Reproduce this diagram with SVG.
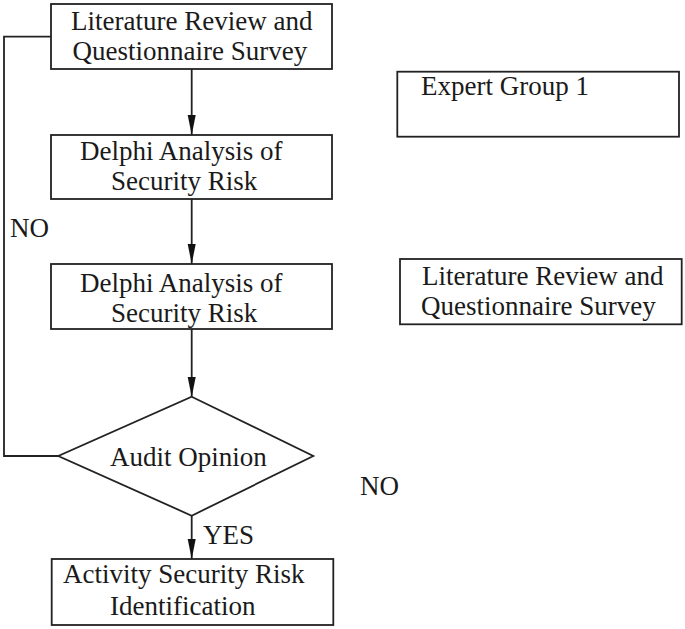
<svg xmlns="http://www.w3.org/2000/svg" width="685" height="629" viewBox="0 0 685 629">
<defs>
<style>
.box{fill:#fff;stroke:#222;stroke-width:1.8}
.t{font-family:"Liberation Serif","Times New Roman",serif;font-size:27px;fill:#1a1a1a}
.c{fill:none;stroke:#222;stroke-width:1.8}
.ah{fill:#111}
</style>
</defs>
<rect width="685" height="629" fill="#fff"/>
<g id="connectors">
<path class="c" d="M191.7,69 V135"/>
<path class="ah" d="M187.7,115 L195.7,115 L191.7,135 Z"/>
<path class="c" d="M191.7,199 V264"/>
<path class="ah" d="M187.7,244 L195.7,244 L191.7,264 Z"/>
<path class="c" d="M191.7,329 V397"/>
<path class="ah" d="M187.7,377 L195.7,377 L191.7,397 Z"/>
<path class="c" d="M191.7,516 V559"/>
<path class="ah" d="M187.7,539 L195.7,539 L191.7,559 Z"/>
<path class="c" d="M58.3,456 H4 V36.7 H51"/>
<text class="t" x="10" y="237">NO</text>
<text class="t" x="203" y="544">YES</text>
<text class="t" x="360" y="495">NO</text>
</g>
<g id="n1">
<rect class="box" x="51" y="4" width="281" height="65"/>
<text class="t" x="71" y="30">Literature Review and</text>
<text class="t" x="72.5" y="60">Questionnaire Survey</text>
</g>
<g id="n2">
<rect class="box" x="51" y="135" width="281" height="64"/>
<text class="t" x="80" y="159.5">Delphi Analysis of</text>
<text class="t" x="111" y="190">Security Risk</text>
</g>
<g id="n3">
<rect class="box" x="51" y="264" width="281" height="65"/>
<text class="t" x="80" y="291.5">Delphi Analysis of</text>
<text class="t" x="111" y="321.5">Security Risk</text>
</g>
<g id="n4">
<polygon class="box" points="191.7,396.7 313.3,456 191.7,515.7 58.3,456"/>
<text class="t" x="110" y="466">Audit Opinion</text>
</g>
<g id="n5">
<rect class="box" x="51.7" y="559" width="281.6" height="66"/>
<text class="t" x="63" y="583">Activity Security Risk</text>
<text class="t" x="110" y="615">Identification</text>
</g>
<g id="n6">
<rect class="box" x="397.3" y="71.7" width="281.7" height="65"/>
<text class="t" x="421" y="95">Expert Group 1</text>
</g>
<g id="n7">
<rect class="box" x="400" y="259" width="281.7" height="65.3"/>
<text class="t" x="422" y="285">Literature Review and</text>
<text class="t" x="421" y="315">Questionnaire Survey</text>
</g>
</svg>
